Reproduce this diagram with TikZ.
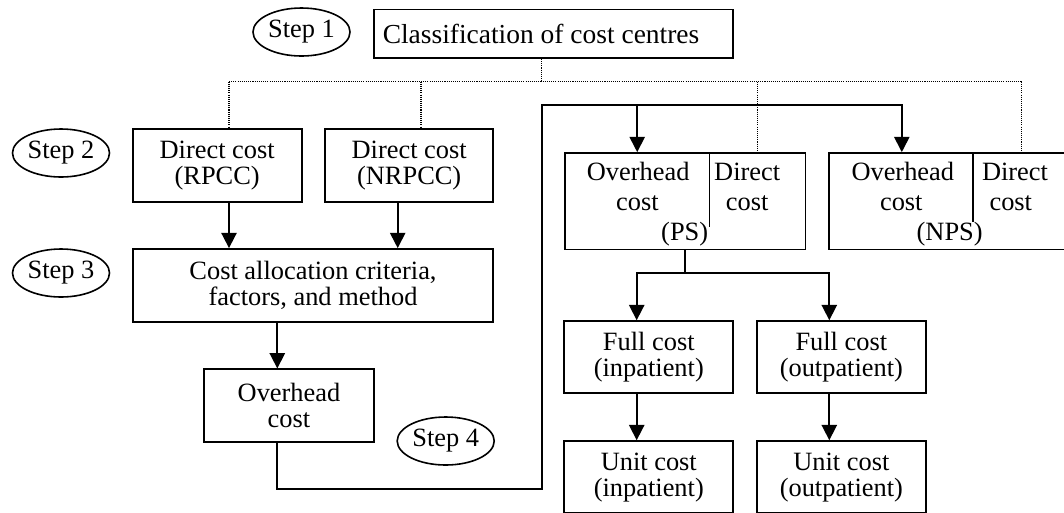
\documentclass[tikz,border=0pt]{standalone}
\usepackage{fontspec}
\setmainfont{Liberation Serif}
\usetikzlibrary{arrows.meta,shapes.geometric}
\begin{document}
\begin{tikzpicture}[x=0.75pt,y=-0.75pt,
  txt/.style={font=\fontsize{19.8pt}{19.5pt}\selectfont},
  box/.style={draw,line width=1.3pt,txt,align=center,inner sep=0pt},
  stepoval/.style={draw,ellipse,line width=1.2pt,txt,inner sep=0pt,minimum width=72.75pt,minimum height=36pt},
  dotline/.style={line width=0.9pt,dash pattern=on 0.8pt off 0.8pt},
  conn/.style={line width=1.3pt},
  divline/.style={line width=1pt},
  arr/.style={conn,-{Triangle[width=11.5pt,length=11.5pt]}}]
\clip (0,0) rectangle (1064,512);
\fill[white] (0,0) rectangle (1064,512);

% step ovals
\node[stepoval] (s1) at (301.5,32) {Step 1};
\node[stepoval] (s2) at (61,153) {Step 2};
\node[stepoval] (s3) at (61,273) {Step 3};
\node[stepoval] (s4) at (445.7,441) {Step 4};

% top box
\node[box,minimum width=269.25pt,minimum height=36.5pt] (cls) at (553.5,33.7) {};
\node[txt,font=\fontsize{20.6pt}{20pt}\selectfont,anchor=west,inner sep=0pt] (clst) at (382.5,33.7) {Classification of cost centres};

% left branch
\node[box,minimum width=126.75pt,minimum height=54.3pt] (rpcc) at (217.2,165.5) {Direct cost\\(RPCC)};
\node[box,minimum width=126.2pt,minimum height=54.3pt] (nrpcc) at (409.2,165.5) {Direct cost\\(NRPCC)};
\node[box,minimum width=270.5pt,minimum height=54.5pt] (alloc) at (313,285.3) {Cost allocation criteria,\\factors, and method};
\node[box,minimum width=127pt,minimum height=54.3pt] (ovh) at (289,405.5) {Overhead\\cost};

% PS and NPS boxes
\node[box,minimum width=180.4pt,minimum height=72.4pt] (ps) at (685.25,201.25) {};
\node[box,minimum width=180.4pt,minimum height=72.4pt] (nps) at (949.45,201.25) {};
\coordinate (psdiv) at (709.2,227);
\coordinate (npsdiv) at (973,222);
\draw[divline] (psdiv |- ps.north) -- (psdiv);
\draw[divline] (npsdiv |- nps.north) -- (npsdiv);
\node[txt,anchor=base] (psoh) at (638.2,180.5) {Overhead};
\node[txt,anchor=base] (psoc) at (637.4,210) {cost};
\node[txt,anchor=base] (psdi) at (747.2,180.5) {Direct};
\node[txt,anchor=base] (psdc) at (747.2,210) {cost};
\node[txt,anchor=base] (psl) at (684.7,240) {(PS)};
\node[txt,anchor=base] (npsoh) at (902.8,180.5) {Overhead};
\node[txt,anchor=base] (npsoc) at (901.3,210) {cost};
\node[txt,anchor=base] (npsdi) at (1015,180.5) {Direct};
\node[txt,anchor=base] (npsdc) at (1010.8,210) {cost};
\node[txt,anchor=base] (npsl) at (949.7,240) {(NPS)};

% right lower boxes
\node[box,minimum width=126.75pt,minimum height=54.2pt] (fin) at (648.8,357.2) {Full cost\\(inpatient)};
\node[box,minimum width=126.5pt,minimum height=54.2pt] (fout) at (841.35,357.2) {Full cost\\(outpatient)};
\node[box,minimum width=126.75pt,minimum height=54.2pt] (uin) at (648.8,477.2) {Unit cost\\(inpatient)};
\node[box,minimum width=126.5pt,minimum height=54.2pt] (uout) at (841.35,477.2) {Unit cost\\(outpatient)};

% dotted classification lines
\coordinate (d0) at (541.5,81.7);
\coordinate (d1) at (229,81.7);
\coordinate (d2) at (421,81.7);
\coordinate (d3) at (757.5,81.7);
\coordinate (d4) at (1021.7,81.7);
\draw[dotline] (d0 |- cls.south) -- (d0);
\draw[dotline] (d1) -- (d4);
\draw[dotline] (d1) -- (d1 |- rpcc.north);
\draw[dotline] (d2) -- (d2 |- nrpcc.north);
\draw[dotline] (d3) -- (d3 |- ps.north);
\draw[dotline] (d4) -- (d4 |- nps.north);

% left arrows
\coordinate (a2) at (397.7,225);
\coordinate (a3) at (277.3,345);
\draw[arr] (d1 |- rpcc.south) -- (d1 |- alloc.north);
\draw[arr] (a2 |- nrpcc.south) -- (a2 |- alloc.north);
\draw[arr] (a3 |- alloc.south) -- (a3 |- ovh.north);

% overhead to PS / NPS
\coordinate (j1) at (277.3,489.3);
\coordinate (j2) at (541.7,489.3);
\coordinate (j3) at (541.7,105.3);
\coordinate (j4) at (637.2,105.3);
\coordinate (j5) at (901.8,105.3);
\draw[arr] (j1 |- ovh.south) -- (j1) -- (j2) -- (j3) -- (j5) -- (j5 |- nps.north);
\draw[arr] (j4) -- (j4 |- ps.north);

% PS to full cost
\coordinate (k1) at (685,273.3);
\coordinate (k2) at (636.7,273.3);
\coordinate (k3) at (829.3,273.3);
\draw[conn] (k1 |- ps.south) -- (k1);
\draw[arr] (k1) -- (k2) -- (k2 |- fin.north);
\draw[arr] (k1) -- (k3) -- (k3 |- fout.north);
\draw[arr] (k2 |- fin.south) -- (k2 |- uin.north);
\draw[arr] (k3 |- fout.south) -- (k3 |- uout.north);
\end{tikzpicture}
\end{document}
